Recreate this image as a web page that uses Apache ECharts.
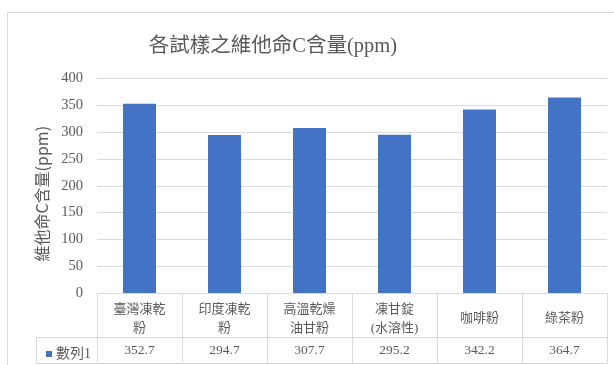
<!DOCTYPE html>
<html>
<head>
<meta charset="utf-8">
<script src="https://cdn.jsdelivr.net/npm/echarts@6/dist/echarts.min.js"></script>
<style>
  html, body { margin: 0; padding: 0; background: #fff; }
  #chart { width: 614px; height: 365px; }
</style>
</head>
<body>
<div id="chart"></div>
<script>
// Vitamin C content per sample
const titleText = '各試樣之維他命C含量(ppm)';
const yAxisName = '維他命C含量(ppm)';
const seriesName = '數列1';
const categories = ['臺灣凍乾\n粉', '印度凍乾\n粉', '高溫乾燥\n油甘粉', '凍甘錠\n(水溶性)', '咖啡粉', '綠茶粉'];
const values = [352.7, 294.7, 307.7, 295.2, 342.2, 364.7];
const yMin = 0, yMax = 400, yStep = 50;

const gray = '#595959';
const lineGray = '#d9d9d9';
const serif = '"Liberation Serif", "Noto Sans CJK TC", serif';

const chart = echarts.init(document.getElementById('chart'), null, { renderer: 'canvas' });

// Data-table rows sit under the plot as extra category axes
const tableAxis = (offset, showLabels) => ({
  type: 'category',
  data: categories,
  position: 'bottom',
  offset: offset,
  axisLine: { show: true, lineStyle: { color: lineGray, width: 1 } },
  axisTick: { show: false },
  axisLabel: {
    show: showLabels,
    margin: 13,
    verticalAlign: 'middle',
    color: gray,
    fontFamily: serif,
    fontSize: 13.5,
    formatter: (v, i) => values[i].toFixed(1)
  },
  splitLine: { show: false }
});

chart.setOption({
  animation: false,
  backgroundColor: '#fff',
  title: {
    text: titleText,
    left: 268,
    top: 31,
    textAlign: 'center',
    textStyle: { color: gray, fontFamily: serif, fontSize: 20.5, fontWeight: 'normal' }
  },
  legend: {
    data: [seriesName],
    left: 41,
    top: 342,
    icon: 'rect',
    itemWidth: 6,
    itemHeight: 6,
    itemGap: 4,
    textStyle: { color: gray, fontFamily: serif, fontSize: 14, padding: [0, 0, 0, -1] }
  },
  grid: { left: 97, right: 7, top: 78.5, bottom: 72, containLabel: false },
  xAxis: [
    {
      type: 'category',
      data: categories,
      position: 'bottom',
      axisLine: { show: true, lineStyle: { color: lineGray, width: 1 } },
      axisTick: { show: true, length: 70, inside: false, lineStyle: { color: lineGray, width: 1 } },
      axisLabel: {
        interval: 0,
        margin: 26,
        verticalAlign: 'middle',
        lineHeight: 19,
        color: gray,
        fontFamily: serif,
        fontSize: 13
      }
    },
    tableAxis(44, true),
    tableAxis(70, false)
  ],
  yAxis: {
    type: 'value',
    min: yMin,
    max: yMax,
    interval: yStep,
    name: yAxisName,
    nameLocation: 'middle',
    nameGap: 46,
    nameTextStyle: { color: gray, fontFamily: '"Noto Sans CJK TC", sans-serif', fontSize: 16, padding: [0, 16, 0, 0] },
    axisLine: { show: false },
    axisTick: { show: false },
    axisLabel: { color: gray, fontFamily: serif, fontSize: 14.5, margin: 14 },
    splitLine: { lineStyle: { color: lineGray, width: 1 } }
  },
  series: [{
    name: seriesName,
    type: 'bar',
    data: values,
    barWidth: 33,
    itemStyle: { color: '#4472C4' }
  }],
  graphic: [
    // chart frame
    { type: 'rect', shape: { x: 7.5, y: 12.5, width: 640, height: 400 }, style: { fill: null, stroke: lineGray, lineWidth: 1 }, silent: true, z: -1 },
    // legend key cell of the data table
    { type: 'rect', shape: { x: 36.5, y: 337.5, width: 61, height: 26 }, style: { fill: null, stroke: lineGray, lineWidth: 1 }, silent: true }
  ]
});
</script>
</body>
</html>
